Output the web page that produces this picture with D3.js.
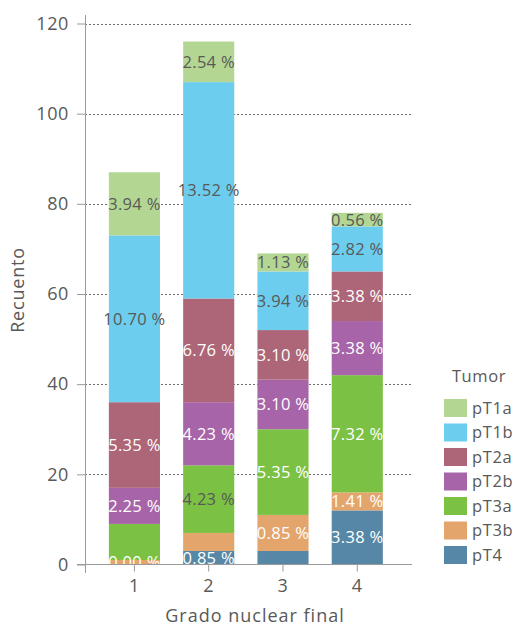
<!DOCTYPE html>
<html>
<head>
<meta charset="utf-8">
<script src="https://cdn.jsdelivr.net/npm/d3@7"></script>
<style>
    body { margin: 0; background: #fff; }
    svg text { font-family: "Open Sans", "Noto Sans", sans-serif; }
</style>
</head>
<body>
<svg id="chart" width="517" height="627"></svg>
<script>
// Categories (x axis) and legend order
const categories = ["1", "2", "3", "4"];
const series = ["pT1a", "pT1b", "pT2a", "pT2b", "pT3a", "pT3b", "pT4"];
const yTicks = [0, 20, 40, 60, 80, 100, 120];

// Counts per category
const pT4 = [0, 3, 3, 12];
const pT3b = [1, 4, 8, 4];
const pT3a = [8, 15, 19, 26];
const pT2b = [8, 14, 11, 12];
const pT2a = [19, 23, 11, 11];
const pT1b = [37, 48, 13, 10];
const pT1a = [14, 9, 4, 3];

// Percent labels shown on each segment (null = no label)
const lblT4 = [null, "0.85 %", null, "3.38 %"];
const lblT3b = ["0.00 %", null, "0.85 %", "1.41 %"];
const lblT3a = [null, "4.23 %", "5.35 %", "7.32 %"];
const lblT2b = ["2.25 %", "4.23 %", "3.10 %", "3.38 %"];
const lblT2a = ["5.35 %", "6.76 %", "3.10 %", "3.38 %"];
const lblT1b = ["10.70 %", "13.52 %", "3.94 %", "2.82 %"];
const lblT1a = ["3.94 %", "2.54 %", "1.13 %", "0.56 %"];

let counts = { pT4, pT3b, pT3a, pT2b, pT2a, pT1b, pT1a };
let labels = { pT4: lblT4, pT3b: lblT3b, pT3a: lblT3a, pT2b: lblT2b, pT2a: lblT2a, pT1b: lblT1b, pT1a: lblT1a };

let colors = {
    pT1a: "#b3d793", pT1b: "#6ccdee", pT2a: "#ad6677", pT2b: "#a864a8",
    pT3a: "#7bc143", pT3b: "#e4a56d", pT4: "#5787a6"
};
// labels drawn dark instead of white
let darkLabel = { pT1a: [1, 1, 1, 1], pT1b: [1, 1, 1, 1], pT3a: [0, 1, 0, 0] };

let svg = d3.select("#chart");
let textGray = "#595959";

// build the rows for d3.stack
let rows = categories.map((c, i) => {
    let r = { cat: c };
    series.forEach(s => r[s] = counts[s][i]);
    return r;
});
let stackOrder = ["pT4", "pT3b", "pT3a", "pT2b", "pT2a", "pT1b", "pT1a"];
let stacked = d3.stack().keys(stackOrder)(rows);

let x = d3.scaleBand()
    .domain(categories)
    .range([85, 412])
    .paddingInner(0.312)
    .paddingOuter(0.357)
    .align(0.45);

let y = d3.scaleLinear()
    .domain([0, 120])
    .range([564.5, 23.5]);

// grid lines
svg.append("g")
    .selectAll("line")
    .data(yTicks.filter(t => t > 0))
    .enter().append("line")
    .attr("x1", 85).attr("x2", 412)
    .attr("y1", d => Math.round(y(d)) + 0.5)
    .attr("y2", d => Math.round(y(d)) + 0.5)
    .attr("stroke", "#6e6e6e")
    .attr("stroke-width", 1)
    .attr("stroke-dasharray", "2,2");

// bars
let layer = svg.append("g")
    .selectAll("g")
    .data(stacked)
    .enter().append("g")
    .attr("fill", d => colors[d.key]);

layer.selectAll("rect")
    .data(d => d)
    .enter().append("rect")
    .attr("x", d => x(d.data.cat))
    .attr("width", x.bandwidth())
    .attr("y", d => y(d[1]))
    .attr("height", d => y(d[0]) - y(d[1]));

// segment labels
stacked.forEach(s => {
    s.forEach((d, i) => {
        let txt = labels[s.key][i];
        if (!txt) return;
        let dark = darkLabel[s.key] && darkLabel[s.key][i];
        svg.append("text")
            .attr("x", x(d.data.cat) + x.bandwidth() / 2)
            .attr("y", (y(d[0]) + y(d[1])) / 2)
            .attr("dy", "0.36em")
            .attr("text-anchor", "middle")
            .attr("font-size", "16.5px")
            .attr("letter-spacing", "0.3px")
            .attr("fill", dark ? textGray : "#ffffff")
            .text(txt);
    });
});

// axes
let axisColor = "#9a9a9a";
let yAxis = svg.append("g")
    .attr("transform", "translate(85,0)")
    .call(d3.axisLeft(y).tickValues(yTicks).tickSize(8).tickPadding(8));
yAxis.select(".domain").remove();
svg.append("line")
    .attr("x1", 85.5).attr("x2", 85.5)
    .attr("y1", 15).attr("y2", 573)
    .attr("stroke", axisColor);

let xAxis = svg.append("g")
    .attr("transform", "translate(0,564.5)")
    .call(d3.axisBottom(x).tickSize(7).tickPadding(8));
xAxis.select(".domain").remove();
svg.append("line")
    .attr("x1", 77).attr("x2", 412)
    .attr("y1", 564.5).attr("y2", 564.5)
    .attr("stroke", axisColor);

[yAxis, xAxis].forEach(a => {
    a.selectAll(".tick line").attr("stroke", axisColor);
    a.selectAll(".tick text")
        .attr("font-size", "18px")
        .attr("letter-spacing", "0.6px")
        .attr("fill", textGray)
        .style("font-family", "'Open Sans', 'Noto Sans', sans-serif");
});

// axis titles
svg.append("text")
    .attr("transform", "translate(24,290) rotate(-90)")
    .attr("text-anchor", "middle")
    .attr("font-size", "18px")
    .attr("letter-spacing", "0.8px")
    .attr("fill", textGray)
    .text("Recuento");

svg.append("text")
    .attr("x", 255)
    .attr("y", 622)
    .attr("text-anchor", "middle")
    .attr("font-size", "18px")
    .attr("letter-spacing", "1px")
    .attr("fill", textGray)
    .text("Grado nuclear final");

// legend
let legend = svg.append("g");
legend.append("text")
    .attr("x", 479).attr("y", 382)
    .attr("text-anchor", "middle")
    .attr("font-size", "16.5px")
    .attr("letter-spacing", "0.6px")
    .attr("fill", textGray)
    .text("Tumor");

series.forEach((s, i) => {
    let ly = 399 + i * 24.5;
    legend.append("rect")
        .attr("x", 444).attr("y", ly)
        .attr("width", 23).attr("height", 18)
        .attr("fill", colors[s]);
    legend.append("text")
        .attr("x", 472).attr("y", ly + 9)
        .attr("dy", "0.36em")
        .attr("font-size", "16.5px")
        .attr("letter-spacing", "0.6px")
        .attr("fill", textGray)
        .text(s);
});
</script>
</body>
</html>
